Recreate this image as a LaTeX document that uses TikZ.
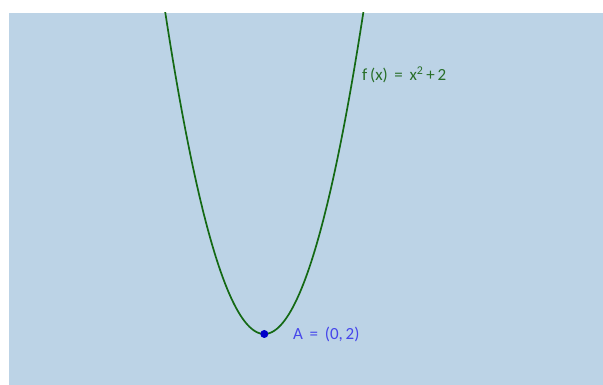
\documentclass[tikz,border=0pt]{standalone}
\usepackage{fontspec}
\setmainfont{Carlito}
\usetikzlibrary{positioning}

\definecolor{bgblue}{RGB}{188,211,230}
\definecolor{curvegreen}{RGB}{20,105,20}
\definecolor{lblgreen}{RGB}{40,110,40}
\definecolor{ptblue}{RGB}{0,0,200}
\definecolor{lblblue}{RGB}{70,70,235}

\begin{document}
\begin{tikzpicture}[x=1pt, y=1pt,
      curve/.style={draw=curvegreen, line width=1.7pt},
      pt/.style={circle, fill=ptblue, inner sep=0pt, minimum size=8pt},
      lbl/.style={font=\fontsize{17}{20}\selectfont, inner sep=0pt}]

    % --- canvas: white margin at left and top ---
    \useasboundingbox (0,0) rectangle (603,385);
    \fill[bgblue] (9,0) rectangle (603,372);

    % --- graph, one unit = 30.5pt, vertex (0,2) at pixel (264,334) ---
    \begin{scope}[shift={(264.3,-10)}, x=30.5pt, y=30.5pt]
    \begin{scope}
    \clip (-8.37,0.33) rectangle (11.1,12.53);
    \draw[curve] plot[domain=-3.4:3.4, samples=120, smooth] (\x, {\x*\x+2});
    \end{scope}

    % point A on the vertex
    \node[pt] (A) at (0,2) {};

    % function label
    \node[lbl, text=lblgreen, anchor=west] (flbl) at (3.2,10.5)
        {f\,(x) \,=\, x\textsuperscript{2}\,+\,2};
    \end{scope}

    \node[lbl, text=lblblue, right=24.5pt of A] (Albl) {A \,=\, (0,\,2)};

\end{tikzpicture}
\end{document}
